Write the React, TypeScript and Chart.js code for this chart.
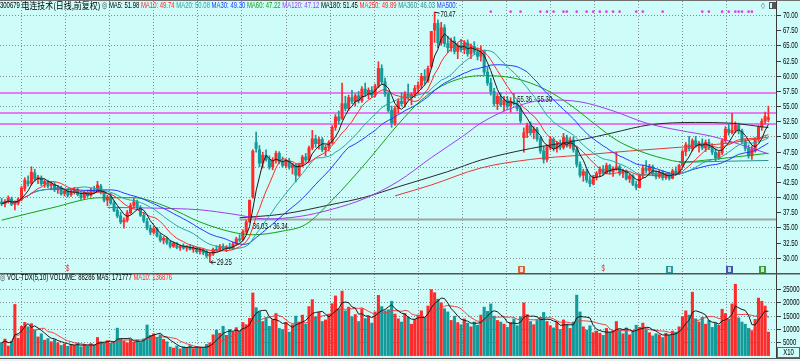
import React, { useEffect, useRef } from "react";
import { Chart, registerables } from "chart.js";

Chart.register(...registerables);

// ---------------- data ----------------
const opens = [
  39.2,38.9,39.3,39.7,38.8,39.0,39.6,41.4,42.6,42.3,
  44.0,43.0,43.2,42.2,42.5,41.9,42.1,41.2,41.6,40.6,
  41.0,40.4,40.9,41.2,40.4,39.9,40.8,40.3,41.2,40.9,
  41.8,40.8,39.5,40.0,39.0,37.8,36.9,35.9,36.2,37.4,
  38.6,39.2,38.3,37.0,36.0,34.9,34.2,34.8,33.6,32.9,
  33.2,32.5,31.9,32.4,31.7,31.9,31.6,31.8,31.4,31.6,
  31.0,31.3,31.0,30.3,30.6,31.4,31.3,31.9,31.5,31.8,
  31.6,32.3,33.1,33.0,34.3,36.0,40.0,49.0,47.8,45.6,
  46.9,46.2,45.0,46.0,47.2,45.8,45.2,46.0,44.9,45.3,
  43.6,45.4,46.6,46.1,48.1,49.6,48.8,49.5,47.8,48.2,
  49.0,51.5,53.2,53.0,55.4,54.6,56.4,55.8,56.7,55.9,
  57.8,57.0,57.6,56.8,58.3,61.2,59.0,57.0,54.3,52.2,
  54.6,55.8,55.4,57.0,56.4,56.9,57.9,58.4,59.9,59.2,
  61.5,67.5,68.6,65.4,67.9,65.3,64.6,65.7,64.0,64.9,
  64.3,65.4,63.6,64.8,63.9,63.2,64.0,60.6,58.8,57.4,
  55.4,56.6,55.2,56.0,55.0,55.8,55.4,54.6,49.8,50.6,
  51.8,50.6,51.2,49.6,47.6,46.2,48.2,49.5,48.0,48.8,
  48.2,49.8,48.6,49.4,47.8,45.4,43.6,44.2,42.8,42.2,
  43.3,43.9,44.6,43.9,45.2,44.2,44.7,45.0,43.9,44.3,
  43.0,43.5,42.1,41.6,43.6,44.8,44.4,45.0,43.8,43.4,
  44.1,43.2,43.7,43.1,44.3,43.9,45.2,47.5,48.6,48.0,
  49.3,48.5,48.9,48.1,49.0,48.2,47.4,46.5,47.3,49.3,
  51.2,50.6,51.0,51.8,50.9,49.2,48.0,46.8,47.6,49.5,
  51.5,52.5,52.8,
];
const highs = [
  39.8,39.6,40.2,40.0,39.4,39.9,41.8,43.2,43.5,45.0,
  44.6,43.6,43.5,42.9,42.8,42.5,42.4,41.9,41.8,41.3,
  41.4,41.1,41.6,41.5,40.9,41.0,41.2,41.5,41.8,42.6,
  42.1,41.0,40.3,40.6,39.4,38.4,37.5,36.6,37.8,39.0,
  39.8,39.5,38.6,37.5,36.5,35.4,35.2,35.0,34.0,33.5,
  33.4,32.9,32.6,32.5,32.1,32.3,32.0,32.2,31.9,31.8,
  31.6,31.5,31.2,30.8,31.6,32.0,32.2,32.3,32.0,32.4,
  32.6,33.4,33.8,34.6,36.2,39.5,47.8,50.7,48.5,47.4,
  47.8,46.8,46.5,47.6,47.5,46.6,46.3,46.4,45.6,45.5,
  45.6,46.9,47.2,48.4,51.0,50.2,49.9,49.8,48.6,49.3,
  51.8,53.6,54.2,58.8,56.6,56.8,57.6,57.0,57.4,58.2,
  58.8,58.0,58.2,58.6,62.3,61.8,59.6,57.4,55.0,55.0,
  56.2,57.2,57.4,58.6,57.2,58.4,59.0,60.4,61.0,61.6,
  67.3,70.47,69.2,68.8,68.4,66.5,66.2,66.4,65.3,66.0,
  65.8,65.9,65.2,65.6,64.6,64.9,64.2,61.4,59.6,57.9,
  57.0,57.2,56.6,56.6,56.4,57.1,56.0,55.0,51.4,52.2,
  52.4,51.6,51.5,50.0,48.4,48.6,50.0,49.8,49.2,49.4,
  50.5,50.2,49.8,49.9,48.3,45.8,44.6,44.6,43.5,43.6,
  44.2,45.0,45.2,45.6,45.4,45.0,47.4,45.3,44.6,44.5,
  43.8,43.7,42.6,43.8,45.2,46.0,45.4,45.3,44.3,44.4,
  44.4,44.0,44.1,44.6,45.0,45.4,47.8,49.0,50.0,49.6,
  50.0,49.2,49.6,49.4,49.5,48.8,48.0,47.6,49.6,51.6,
  52.0,53.8,52.4,52.2,51.2,49.6,48.6,48.4,49.8,51.8,
  52.9,54.0,55.0,
];
const lows = [
  38.6,38.4,39.0,38.6,37.9,38.7,39.4,41.0,41.8,42.0,
  42.6,42.2,41.9,41.6,41.5,41.2,40.9,40.6,40.3,40.2,
  40.0,40.1,40.5,40.2,39.6,39.7,40.0,40.1,40.6,40.8,
  40.5,39.2,38.6,38.8,37.6,36.6,35.6,34.9,35.9,37.2,
  38.2,38.0,36.8,35.8,34.6,33.8,33.9,33.4,32.6,32.3,
  32.2,31.6,31.7,31.5,31.2,31.4,31.1,31.3,30.9,30.8,
  30.6,30.5,30.0,29.25,30.4,31.0,31.1,31.3,31.0,31.4,
  31.4,32.1,32.6,32.8,34.0,35.8,39.8,47.4,45.0,44.8,
  45.9,44.6,44.5,45.6,45.5,44.9,44.8,44.6,43.8,42.5,
  43.4,45.0,45.8,45.9,47.8,48.2,47.9,47.5,46.8,47.6,
  48.7,51.0,52.0,52.8,54.2,54.3,55.4,55.0,55.5,55.6,
  56.6,56.2,56.4,56.5,58.0,58.6,56.6,54.0,51.5,51.8,
  53.8,55.0,54.8,56.0,55.2,56.4,57.0,57.8,58.6,58.9,
  61.2,65.5,64.6,65.0,64.8,63.8,64.0,63.6,62.8,63.9,
  63.6,63.2,62.8,63.5,62.6,62.4,60.2,58.4,56.8,55.0,
  54.4,54.9,54.2,54.6,54.0,55.2,54.2,52.2,47.4,49.8,
  50.2,49.6,49.2,47.2,45.6,45.8,47.8,47.6,47.4,47.8,
  47.9,48.2,48.0,47.4,45.0,43.3,42.6,42.4,41.7,42.0,
  42.8,43.4,43.6,43.8,43.8,43.4,44.4,43.6,43.2,42.8,
  42.4,41.9,41.2,41.5,43.2,44.0,43.6,43.5,43.0,43.1,
  42.8,42.9,42.8,43.0,43.6,43.7,45.0,46.8,47.6,47.6,
  48.2,47.4,47.8,47.5,47.8,47.0,46.0,46.2,47.0,49.0,
  50.2,50.4,50.6,50.4,48.9,47.6,46.4,46.2,47.4,49.2,
  51.0,52.0,52.4,
];
const closes = [
  38.9,39.3,39.8,38.8,39.1,39.6,41.5,42.8,42.2,44.1,
  43.0,43.3,42.2,42.6,41.8,42.2,41.2,41.6,40.5,41.0,
  40.3,40.9,41.3,40.4,39.9,40.8,40.2,41.2,40.9,42.0,
  40.8,39.5,40.0,39.0,37.8,36.9,35.9,36.2,37.4,38.6,
  39.2,38.3,37.0,36.1,34.9,34.2,34.8,33.6,32.9,33.2,
  32.5,31.9,32.4,31.7,31.9,31.6,31.8,31.4,31.6,31.0,
  31.3,30.8,30.3,30.6,31.4,31.2,31.9,31.5,31.8,31.6,
  32.3,33.1,32.9,34.3,35.9,39.5,47.6,48.0,45.6,46.9,
  46.2,45.0,46.0,47.2,45.8,45.2,46.0,44.9,45.3,43.6,
  45.4,46.6,46.1,48.1,49.6,48.8,49.5,47.8,48.2,49.0,
  51.5,53.2,52.6,55.4,54.6,56.4,55.8,56.7,55.9,57.8,
  57.0,57.6,56.8,58.3,61.2,59.0,57.0,54.3,52.2,54.6,
  55.8,55.4,57.0,56.4,56.9,57.9,58.4,59.9,59.2,61.2,
  67.3,68.6,65.4,67.9,65.3,64.6,65.7,64.0,64.9,64.3,
  65.4,63.6,64.8,63.9,63.2,64.2,60.6,58.8,57.4,55.4,
  56.6,55.2,56.0,54.9,55.8,55.4,54.6,52.6,50.6,51.8,
  50.6,51.2,49.6,47.6,46.2,48.2,49.5,48.0,48.8,48.2,
  49.8,48.6,49.4,47.8,45.4,43.6,44.2,42.8,42.2,43.3,
  43.9,44.6,43.9,45.2,44.2,44.7,45.0,43.9,44.3,43.0,
  43.5,42.1,41.6,43.6,44.8,44.4,45.0,43.8,43.4,44.1,
  43.2,43.7,43.1,44.3,43.9,45.2,47.5,48.6,48.0,49.3,
  48.5,48.9,48.1,49.0,48.2,47.4,46.5,47.3,49.3,51.2,
  50.6,51.0,51.8,50.9,49.2,48.0,46.8,47.9,49.5,51.5,
  52.5,53.3,53.1,
];
// volume in axis units (x10)
const volumes = [
  4800,6200,3600,5400,19200,6500,11000,12500,10800,12000,
  9500,7000,8200,5800,6400,5200,6000,4800,3800,4400,
  3500,4200,3900,4700,3300,4100,3600,4500,3900,6800,
  5200,4800,5600,4600,5300,10300,6200,5400,4800,6100,
  5000,5800,4900,6300,11500,7600,8200,6900,7800,6100,
  5200,3200,2800,3600,2500,3300,2900,3800,2600,3400,
  3000,2700,4200,4800,7800,9600,8400,11000,7600,9800,
  8800,10500,9200,12400,11600,14000,23500,18000,16500,12800,
  14200,11000,13500,15800,10200,9800,12400,8800,11600,14800,
  12600,15200,11800,18400,21000,14600,16200,12800,13400,15600,
  19500,22400,17600,24200,16800,18200,14600,15400,12800,17600,
  13900,14800,12200,16400,22600,18400,16800,17200,20400,15600,
  13800,12600,15800,14400,11800,13600,15200,16800,14200,18600,
  24800,23600,21200,19800,17600,16400,13200,14800,12400,11600,
  13800,12200,10800,12600,11400,15200,18200,16600,19400,14800,
  13200,12600,11800,10600,12400,13800,11200,14600,19800,15400,
  12800,11600,13200,14400,16200,12800,11200,10400,12600,9800,
  13400,11800,10200,12600,22700,16400,10800,9600,11200,8600,
  9200,8400,7600,10200,8800,9400,12800,9600,8200,10400,
  7800,9200,11400,10600,12200,9800,8600,7400,8200,7800,
  6800,8400,7600,9200,8800,10800,14600,16800,15200,23800,
  13800,12600,14400,11800,13200,10600,12200,11400,17400,15800,
  13600,19400,26800,14200,12600,11800,10200,9400,13600,21600,
  20400,18600,8829,
];

// long moving averages (candle index -> value)
const ma60At = [0, 15, 30, 40, 50, 60, 70, 76, 85, 92, 100, 110, 120, 127, 135, 145, 155, 165, 173, 180, 186, 193, 200, 206, 215, 225, 232];
const ma60Vals = [36.2, 38.2, 39.9, 39.9, 38.4, 35.9, 34.2, 33.8, 34.4, 35.5, 39.5, 45.5, 52.0, 56.0, 58.8, 60.0, 59.6, 57.6, 54.8, 51.8, 49.4, 47.6, 46.4, 45.8, 46.2, 46.8, 47.22];
const ma120At = [32, 45, 60, 70, 80, 90, 100, 110, 120, 130, 140, 145, 155, 165, 175, 185, 195, 205, 215, 225, 232];
const ma120Vals = [38.3, 38.2, 37.9, 37.2, 36.4, 36.8, 38.0, 39.8, 42.6, 46.5, 50.2, 52.2, 54.8, 56.0, 55.7, 54.2, 52.2, 51.0, 50.0, 48.4, 47.12];
const ma180At = [72, 85, 100, 110, 120, 135, 145, 160, 175, 185, 196, 210, 220, 232];
const ma180Vals = [36.6, 37.2, 38.8, 40.0, 41.7, 44.2, 46.1, 48.0, 49.4, 50.6, 51.9, 52.3, 52.2, 51.45];
const ma250At = [119, 130, 145, 160, 175, 190, 205, 220, 232];
const ma250Vals = [40.2, 42.0, 44.8, 46.2, 46.9, 47.6, 48.2, 48.9, 49.89];
const ma360At = [205, 218, 232];
const ma360Vals = [45.7, 45.9, 46.03];

const priceLabels = [30, 32.5, 35, 37.5, 40, 42.5, 45, 47.5, 50, 52.5, 55, 57.5, 60, 62.5, 65, 67.5, 70];
const priceGridLevels = [30, 35, 40, 45, 50, 55, 60, 65, 70];
const volLabels = [5000, 10000, 15000, 20000, 25000];
const userLines = [57.15, 53.85, 52.05];
const supportLevel = 36.3;
const supportFrom = 72;
const signalIdx = [148, 154, 157, 163, 165, 167, 170, 171, 174, 177, 179, 181, 183, 185, 187, 192, 194, 200, 212, 214, 218, 220, 222, 223, 224, 226, 227];
const signalLevel = 70.55;
const eventMarks = [
  { i: 20, kind: "$", color: "#e02828" },
  { i: 157, kind: "T", color: "#d2693c" },
  { i: 182, kind: "$", color: "#e02828" },
  { i: 202, kind: "sq", color: "#2b9a9a" },
  { i: 220, kind: "sq", color: "#3b5ba8" },
  { i: 230, kind: "sq", color: "#3aa03a" },
];
const highIdx = 131;
const lowIdx = 63;

const RED = "#ff2a2a";
const TEAL = "#139a9a";
const BLUE = "#1f3cff";
const GREEN = "#16a016";
const PURPLE = "#a23cf0";
const MA20C = "#2aa3a3";
const BG = "#cdfcf9";
const GRID = "#7d8f8f";

const headerSegs: [string, string, string][] = [
  ["300679 ", "#000", "lat"],
  ["电连技术(日线,前复权)", "#000", "cjk"],
  [" ◎ ", "#444", "lat"],
  ["MA5: 51.98 ", "#000", "lat"],
  ["MA10: 49.74 ", RED, "lat"],
  ["MA20: 50.08 ", MA20C, "lat"],
  ["MA30: 49.30 ", BLUE, "lat"],
  ["MA60: 47.22 ", GREEN, "lat"],
  ["MA120: 47.12 ", PURPLE, "lat"],
  ["MA180: 51.45 ", "#000", "lat"],
  ["MA250: 49.89 ", RED, "lat"],
  ["MA360: 46.03 ", "#2a8f8f", "lat"],
  ["MA500: -", BLUE, "lat"],
];
const volHeaderSegs: [string, string, string][] = [
  ["◎ ", "#444", "lat"],
  ["VOL-TDX(5,10) VOLUME: 88286 MA5: 171777 ", "#000", "lat"],
  ["MA10: 136876", RED, "lat"],
];

// ---------------- helpers ----------------
const LAT = '"Liberation Sans", Arial, sans-serif';
const CJK = '"Noto Sans CJK SC", sans-serif';

function drawText(ctx: any, text: string, x: number, y: number, color: string, kind = "lat", align = "left", size = 9) {
  const sx = kind === "cjk" ? 0.88 : 0.66;
  ctx.save();
  ctx.font = `${size}px ${kind === "cjk" ? CJK : LAT}`;
  ctx.fillStyle = color;
  ctx.textBaseline = "middle";
  const w = ctx.measureText(text).width * sx;
  const x0 = align === "left" ? x : align === "right" ? x - w : x - w / 2;
  ctx.translate(x0, y);
  ctx.scale(sx, 1);
  ctx.textAlign = "left";
  ctx.fillText(text, 0, 0);
  ctx.restore();
  return w;
}

function drawSegs(ctx: any, segs: [string, string, string][], x: number, y: number) {
  let cx = x;
  for (const [t, c, k] of segs) cx += drawText(ctx, t, cx, y, c, k);
}

function movingAvg(arr: number[], n: number) {
  return arr.map((_, i) => {
    const s = Math.max(0, i - n + 1);
    let t = 0;
    for (let k = s; k <= i; k++) t += arr[k];
    return t / (i - s + 1);
  });
}

const N = closes.length;
const X_MIN = -0.5;
const X_MAX = N + 1.3;
const GRID_START = 5.85;
const GRID_EVERY = 13.34;

function vLines(chart: any) {
  const { ctx, chartArea: a, scales } = chart;
  const x = scales.x;
  ctx.save();
  ctx.strokeStyle = GRID;
  ctx.lineWidth = 1;
  ctx.setLineDash([1, 2]);
  for (let v = GRID_START; v < X_MAX; v += GRID_EVERY) {
    const px = Math.round(x.getPixelForValue(v)) + 0.5;
    if (px > a.right - 6) break;
    ctx.beginPath();
    ctx.moveTo(px, a.top);
    ctx.lineTo(px, a.bottom);
    ctx.stroke();
  }
  ctx.restore();
}

function lineDs(data: any[], color: string, smooth: boolean) {
  return {
    type: "line",
    data,
    borderColor: color,
    borderWidth: 1,
    pointRadius: 0,
    tension: smooth ? 0.4 : 0,
    cubicInterpolationMode: smooth ? "monotone" : "default",
    order: 1,
    spanGaps: true,
  };
}

const topPlugin = {
  id: "topDeco",
  beforeDraw(chart: any) {
    const { ctx, width, height } = chart;
    ctx.save();
    ctx.fillStyle = BG;
    ctx.fillRect(0, 0, width, height);
    ctx.restore();
  },
  beforeDatasetsDraw(chart: any) {
    const { ctx, chartArea: a, scales } = chart;
    const x = scales.x, y = scales.y;
    vLines(chart);
    ctx.save();
    ctx.strokeStyle = GRID;
    ctx.setLineDash([1, 2]);
    ctx.lineWidth = 1;
    for (const p of priceGridLevels) {
      const py = Math.round(y.getPixelForValue(p)) + 0.5;
      ctx.beginPath();
      ctx.moveTo(a.left, py);
      ctx.lineTo(a.right, py);
      ctx.stroke();
    }
    ctx.setLineDash([]);
    // user drawn horizontal lines
    ctx.strokeStyle = "#ee50ee";
    ctx.lineWidth = 1.4;
    for (const p of userLines) {
      const py = y.getPixelForValue(p);
      ctx.beginPath();
      ctx.moveTo(a.left, py);
      ctx.lineTo(a.right, py);
      ctx.stroke();
    }
    ctx.strokeStyle = "#a3a3a3";
    ctx.lineWidth = 2;
    const sy = y.getPixelForValue(supportLevel);
    ctx.beginPath();
    ctx.moveTo(x.getPixelForValue(supportFrom), sy);
    ctx.lineTo(a.right, sy);
    ctx.stroke();
    ctx.restore();
  },
  afterDatasetsDraw(chart: any) {
    const { ctx, chartArea: a, scales, width } = chart;
    const x = scales.x, y = scales.y;
    ctx.save();
    // axis
    ctx.strokeStyle = "#3a3a3a";
    ctx.lineWidth = 1;
    ctx.beginPath();
    ctx.moveTo(a.right + 0.5, 0);
    ctx.lineTo(a.right + 0.5, chart.height);
    ctx.stroke();
    for (const p of priceLabels) {
      const py = Math.round(y.getPixelForValue(p)) + 0.5;
      ctx.beginPath();
      ctx.moveTo(a.right + 1, py);
      ctx.lineTo(a.right + 5, py);
      ctx.stroke();
      drawText(ctx, p.toFixed(2), a.right + 7, py, "#000");
    }
    // top border
    ctx.strokeStyle = "#707070";
    ctx.beginPath();
    ctx.moveTo(0, 0.5);
    ctx.lineTo(width, 0.5);
    ctx.stroke();
    // signal dots
    ctx.fillStyle = "#e63ce6";
    for (const i of signalIdx) {
      ctx.beginPath();
      ctx.arc(x.getPixelForValue(i), y.getPixelForValue(signalLevel), 1.3, 0, Math.PI * 2);
      ctx.fill();
    }
    // high / low annotations
    const hx = x.getPixelForValue(highIdx), hy = y.getPixelForValue(highs[highIdx]);
    ctx.strokeStyle = "#222";
    ctx.beginPath();
    ctx.moveTo(hx, hy);
    ctx.lineTo(hx + 5, hy + 1);
    ctx.stroke();
    drawText(ctx, highs[highIdx].toFixed(2), hx + 6, hy + 2, "#111");
    const lx = x.getPixelForValue(lowIdx), ly = y.getPixelForValue(lows[lowIdx]);
    ctx.beginPath();
    ctx.moveTo(lx + 1, ly);
    ctx.lineTo(lx + 6, ly);
    ctx.moveTo(lx + 1, ly);
    ctx.lineTo(lx + 3, ly - 2);
    ctx.moveTo(lx + 1, ly);
    ctx.lineTo(lx + 3, ly + 2);
    ctx.stroke();
    drawText(ctx, lows[lowIdx].toFixed(2), lx + 7, ly + 0.5, "#111");
    drawText(ctx, "36.03 - 36.34", x.getPixelForValue(76), y.getPixelForValue(35.1), "#111");
    drawText(ctx, "55.36 - 55.30", x.getPixelForValue(156), y.getPixelForValue(56.0), "#111");
    // event marks along the bottom
    for (const m of eventMarks) {
      const mx = x.getPixelForValue(m.i), my = a.bottom - 3.5;
      if (m.kind === "$") {
        drawText(ctx, "$", mx, my, m.color, "lat", "center", 9);
      } else {
        ctx.fillStyle = m.color;
        ctx.fillRect(Math.round(mx - 3), Math.round(my - 3), 7, 7);
        ctx.fillStyle = "rgba(255,255,255,0.75)";
        ctx.fillRect(Math.round(mx - 1), Math.round(my - 2), 3, 5);
      }
    }
    // header
    drawSegs(ctx, headerSegs, 0, 6);
    // small icons at top right
    drawText(ctx, "◇", 761, 6, "#555", "lat", "left", 8);
    ctx.strokeStyle = "#555";
    ctx.strokeRect(769.5, 2.5, 6, 6);
    ctx.fillStyle = "#555";
    ctx.fillRect(772, 3, 3, 5);
    ctx.restore();
  },
};

const volPlugin = {
  id: "volDeco",
  beforeDraw(chart: any) {
    const { ctx, width, height } = chart;
    ctx.save();
    ctx.fillStyle = BG;
    ctx.fillRect(0, 0, width, height);
    ctx.restore();
  },
  beforeDatasetsDraw(chart: any) {
    const { ctx, chartArea: a, scales } = chart;
    const y = scales.y;
    vLines(chart);
    ctx.save();
    ctx.strokeStyle = GRID;
    ctx.setLineDash([1, 2]);
    for (const v of volLabels) {
      const py = Math.round(y.getPixelForValue(v)) + 0.5;
      ctx.beginPath();
      ctx.moveTo(a.left, py);
      ctx.lineTo(a.right, py);
      ctx.stroke();
    }
    ctx.restore();
  },
  afterDatasetsDraw(chart: any) {
    const { ctx, chartArea: a, scales, width, height } = chart;
    const y = scales.y;
    ctx.save();
    ctx.strokeStyle = "#3a3a3a";
    ctx.lineWidth = 1;
    ctx.beginPath();
    ctx.moveTo(a.right + 0.5, 0);
    ctx.lineTo(a.right + 0.5, height);
    ctx.stroke();
    for (const v of volLabels) {
      const py = Math.round(y.getPixelForValue(v)) + 0.5;
      ctx.beginPath();
      ctx.moveTo(a.right + 1, py);
      ctx.lineTo(a.right + 5, py);
      ctx.stroke();
      drawText(ctx, String(v), a.right + 7, py, "#000");
    }
    // panel divider
    ctx.strokeStyle = "#555";
    ctx.lineWidth = 1.5;
    ctx.beginPath();
    ctx.moveTo(0, 0.75);
    ctx.lineTo(width, 0.75);
    ctx.stroke();
    // bottom strip
    ctx.fillStyle = "#eef1f1";
    ctx.fillRect(0, a.bottom, width, height - a.bottom);
    ctx.strokeStyle = "#555";
    ctx.lineWidth = 1;
    ctx.beginPath();
    ctx.moveTo(0, a.bottom + 0.5);
    ctx.lineTo(width, a.bottom + 0.5);
    ctx.stroke();
    // X10 box
    ctx.fillStyle = BG;
    ctx.fillRect(a.right + 1, 74, 23, 11);
    ctx.strokeStyle = "#666";
    ctx.strokeRect(a.right + 1.5, 74.5, 22, 10);
    drawText(ctx, "X10", a.right + 12.5, 79.5, "#000", "lat", "center");
    // header
    drawSegs(ctx, volHeaderSegs, 0, 4.5);
    ctx.restore();
  },
};

export default function App() {
  const topRef = useRef<HTMLCanvasElement>(null);
  const botRef = useRef<HTMLCanvasElement>(null);

  useEffect(() => {
    document.body.style.margin = "0";
    const up = closes.map((c, i) => c >= opens[i]);
    const colors = up.map((u) => (u ? RED : TEAL));
    const bodyData = closes.map((c, i) => {
      let lo = Math.min(opens[i], c), hi = Math.max(opens[i], c);
      if (hi - lo < 0.08) { hi += 0.04; lo -= 0.04; }
      return { x: i, y: [lo, hi] };
    });
    const wickData = closes.map((c, i) => ({ x: i, y: [Math.min(lows[i], opens[i], c), Math.max(highs[i], opens[i], c)] }));
    const toPts = (arr: number[]) => arr.map((v, i) => ({ x: i, y: v }));
    const pairPts = (at: number[], vals: number[]) => at.map((i, k) => ({ x: i, y: vals[k] }));

    const xScale = { type: "linear", min: X_MIN, max: X_MAX, display: false, offset: false, grid: { offset: false } };

    const top = new Chart(topRef.current as any, {
      type: "bar",
      data: {
        datasets: [
          lineDs(toPts(movingAvg(closes, 5)), "#1a1a1a", false),
          lineDs(toPts(movingAvg(closes, 10)), RED, false),
          lineDs(toPts(movingAvg(closes, 20)), MA20C, false),
          lineDs(toPts(movingAvg(closes, 30)), BLUE, false),
          lineDs(pairPts(ma60At, ma60Vals), GREEN, true),
          lineDs(pairPts(ma120At, ma120Vals), PURPLE, true),
          lineDs(pairPts(ma180At, ma180Vals), "#2a2a2a", true),
          lineDs(pairPts(ma250At, ma250Vals), "#e23a3a", true),
          lineDs(pairPts(ma360At, ma360Vals), "#2a8f8f", true),
          { type: "bar", data: bodyData, backgroundColor: colors, barThickness: 2.4, grouped: false, order: 2 },
          { type: "bar", data: wickData, backgroundColor: colors, barThickness: 1, grouped: false, order: 3 },
        ] as any,
      },
      options: {
        responsive: false,
        maintainAspectRatio: false,
        animation: false,
        events: [],
        layout: { padding: { left: 0, right: 24, top: 1, bottom: 1 } },
        scales: {
          x: xScale as any,
          y: { type: "linear", min: 27.66, max: 72.306, display: false },
        },
        plugins: { legend: { display: false }, tooltip: { enabled: false } },
      },
      plugins: [topPlugin],
    });

    const volColors = volumes.map((_, i) => (up[i] ? RED : TEAL));
    const bot = new Chart(botRef.current as any, {
      type: "bar",
      data: {
        datasets: [
          lineDs(toPts(movingAvg(volumes, 5)), "#1a1a1a", false),
          lineDs(toPts(movingAvg(volumes, 10)), "#f04040", false),
          { type: "bar", data: toPts(volumes), backgroundColor: volColors, barThickness: 2.4, grouped: false, order: 2 },
        ] as any,
      },
      options: {
        responsive: false,
        maintainAspectRatio: false,
        animation: false,
        events: [],
        layout: { padding: { left: 0, right: 24, top: 1, bottom: 3 } },
        scales: {
          x: xScale as any,
          y: { type: "linear", min: -901, max: 30631, display: false },
        },
        plugins: { legend: { display: false }, tooltip: { enabled: false } },
      },
      plugins: [volPlugin],
    });

    return () => {
      top.destroy();
      bot.destroy();
    };
  }, []);

  return (
    <div style={{ position: "relative", width: 800, height: 361, background: BG, overflow: "hidden" }}>
      <canvas ref={topRef} width={800} height={273} style={{ position: "absolute", left: 0, top: 0, width: 800, height: 273 }} />
      <canvas ref={botRef} width={800} height={88} style={{ position: "absolute", left: 0, top: 273, width: 800, height: 88 }} />
    </div>
  );
}
